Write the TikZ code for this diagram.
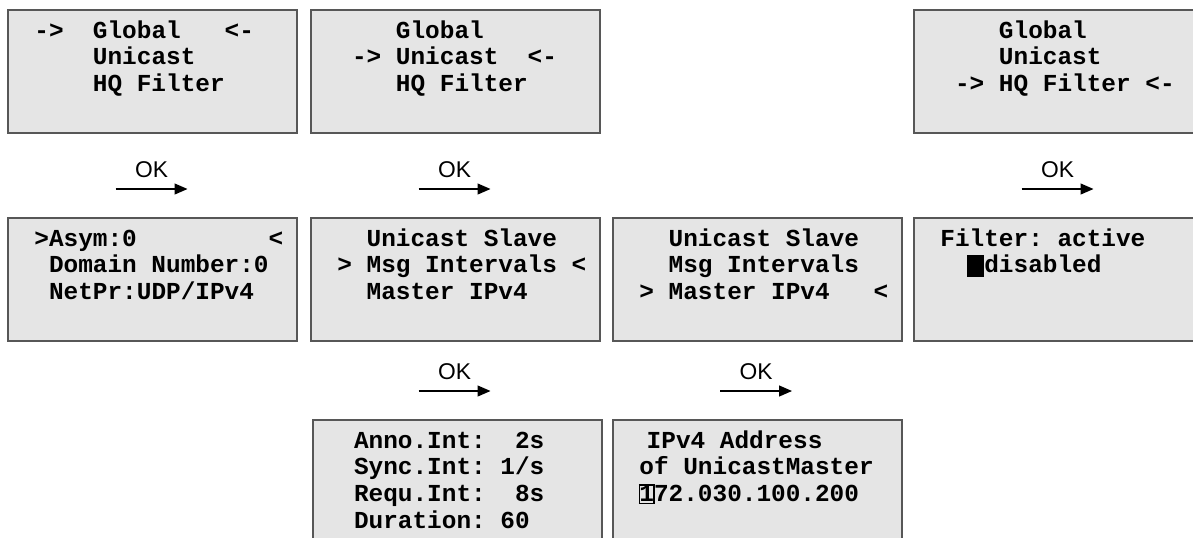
\documentclass[tikz,border=0pt]{standalone}
\usepackage{fontspec}
\setmainfont{Liberation Sans}
\newfontfamily\lcdfont{Liberation Mono}
\usetikzlibrary{arrows.meta,positioning}
\definecolor{lcdgray}{rgb}{0.90,0.90,0.90}
\definecolor{lcdframe}{rgb}{0.34,0.34,0.34}
\newcommand{\lcdsetup}{\fontsize{12.2}{13.4}\selectfont\lcdfont\bfseries}
% blank character cells of the display
\newcommand{\lcdsp}[1][1]{\leavevmode\hbox to #1\dimexpr0.6em\relax{}}
\tikzset{
  lcd/.style={draw=lcdframe, fill=lcdgray, line width=0.8pt,
    minimum width=144.5pt, minimum height=61.5pt,
    anchor=north west, inner sep=0pt},
  lcdtext/.style={anchor=base west, inner sep=0pt, text width=140pt, align=left,
    font=\lcdsetup},
  oklabel/.style={font=\fontsize{11.4}{13}\selectfont, inner sep=0pt},
  okarrow/.style={-{Triangle[length=6.5pt,width=5.5pt]}, line width=0.6pt}
}
% one "OK" step below a display: name, x, y of the label
\newcommand{\okstep}[3]{%
  \node[oklabel] (#1) at (#2,#3) {OK};
  \coordinate (#1-from) at (#2-36,#3+19);
  \coordinate (#1-to) at (#2+36,#3+19);
  \draw[okarrow] (#1-from) -- (#1-to);
}
\newcommand{\cursorblock}{\hspace{-0.1em}\rule[-0.17em]{0.7em}{0.88em}}
\newcommand{\cursorframe}[1]{\leavevmode\makebox[0.6em][c]{\fboxsep=0pt\fboxrule=0.6pt%
  \fbox{\makebox[0.55em][c]{\rule[-0.04em]{0pt}{0.62em}#1}}}}

\begin{document}
\begin{tikzpicture}[x=0.5pt, y=-0.5pt]
  \useasboundingbox (0,0) rectangle (1193,537);
  \clip (0,0) rectangle (1193,537);

  % first level menu
  \node[lcd] (b1) at (7,9) {};
  \node[lcdtext] (t1) at ([xshift=13.5pt,yshift=-14.5pt]b1.north west)
    {->\lcdsp[2]Global\lcdsp[3]<-\\\lcdsp[4]Unicast\\\lcdsp[4]HQ\lcdsp Filter};
  \node[lcd] (b2) at (310,9) {};
  \node[lcdtext] (t2) at ([xshift=13.5pt,yshift=-14.5pt]b2.north west)
    {\lcdsp[4]Global\\\lcdsp->\lcdsp Unicast\lcdsp[2]<-\\\lcdsp[4]HQ\lcdsp Filter};
  \node[lcd] (b3) at (913,9) {};
  \node[lcdtext] (t3) at ([xshift=13.5pt,yshift=-14.5pt]b3.north west)
    {\lcdsp[4]Global\\\lcdsp[4]Unicast\\\lcdsp->\lcdsp HQ\lcdsp Filter\lcdsp<-};

  \okstep{okA}{151.5}{170}
  \okstep{okB}{454.5}{170}
  \okstep{okD}{1057.5}{170}

  % second level
  \node[lcd] (b4) at (7,217) {};
  \node[lcdtext] (t4) at ([xshift=13.5pt,yshift=-14.5pt]b4.north west)
    {>Asym:0\lcdsp[9]<\\\lcdsp Domain\lcdsp Number:0\\\lcdsp NetPr:UDP/IPv4};
  \node[lcd] (b5) at (310,217) {};
  \node[lcdtext] (t5) at ([xshift=13.5pt,yshift=-14.5pt]b5.north west)
    {\lcdsp[2]Unicast\lcdsp Slave\\>\lcdsp Msg\lcdsp Intervals\lcdsp<\\\lcdsp[2]Master\lcdsp IPv4};
  \node[lcd] (b6) at (612,217) {};
  \node[lcdtext] (t6) at ([xshift=13.5pt,yshift=-14.5pt]b6.north west)
    {\lcdsp[2]Unicast\lcdsp Slave\\\lcdsp[2]Msg\lcdsp Intervals\\>\lcdsp Master\lcdsp IPv4\lcdsp[3]<};
  \node[lcd] (b7) at (913,217) {};
  \node[lcdtext] (t7) at ([xshift=13.5pt,yshift=-14.5pt]b7.north west)
    {Filter:\lcdsp active\\\lcdsp[2]\cursorblock disabled};

  \okstep{okE}{454.5}{372}
  \okstep{okF}{756}{372}

  % third level
  \node[lcd] (b8) at (312,419) {};
  \node[lcdtext] (t8) at ([xshift=13.5pt,yshift=-14.5pt]b8.north west)
    {\lcdsp Anno.Int:\lcdsp[2]2s\\\lcdsp Sync.Int:\lcdsp 1/s\\\lcdsp Requ.Int:\lcdsp[2]8s\\\lcdsp Duration:\lcdsp 60};
  \node[lcd] (b9) at (612,419) {};
  \node[lcdtext] (t9) at ([xshift=13.5pt,yshift=-14.5pt]b9.north west)
    {\lcdsp[0.5]IPv4\lcdsp Address\\of\lcdsp UnicastMaster\\\cursorframe{1}72.030.100.200};
\end{tikzpicture}
\end{document}
